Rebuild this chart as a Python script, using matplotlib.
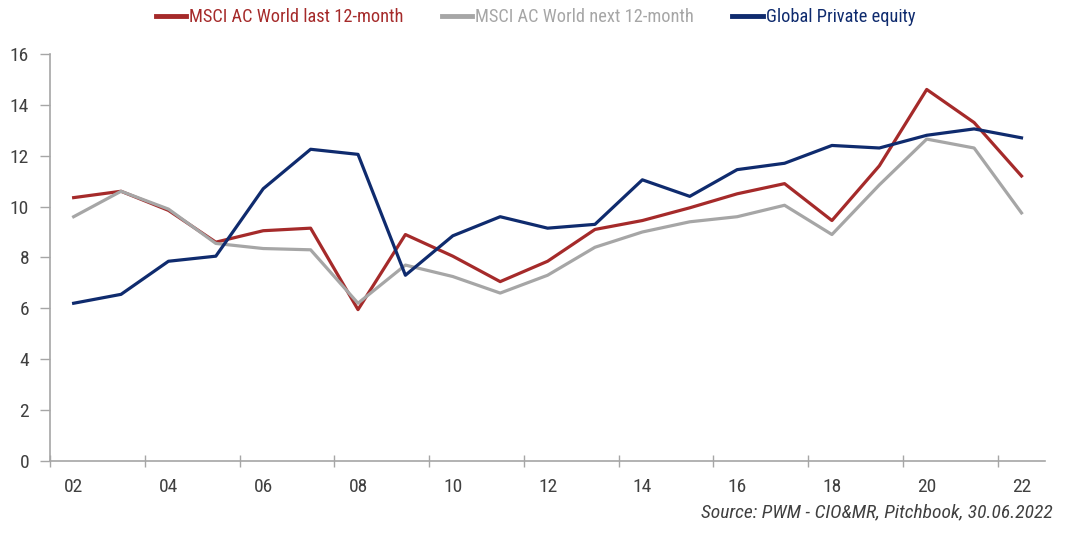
import matplotlib
matplotlib.use("Agg")
import matplotlib.pyplot as plt

plt.rcParams['font.family'] = ['Roboto Condensed', 'DejaVu Sans']

years = ['02', '03', '04', '05', '06', '07', '08', '09', '10', '11', '12',
         '13', '14', '15', '16', '17', '18', '19', '20', '21', '22']
msci_last = [10.35, 10.6, 9.85, 8.6, 9.05, 9.15, 5.95, 8.9, 8.05, 7.05, 7.85,
             9.1, 9.45, 9.95, 10.5, 10.9, 9.45, 11.6, 14.6, 13.3, 11.2]
msci_next = [9.6, 10.6, 9.9, 8.55, 8.35, 8.3, 6.2, 7.7, 7.25, 6.6, 7.3,
             8.4, 9.0, 9.4, 9.6, 10.05, 8.9, 10.85, 12.65, 12.3, 9.75]
private_eq = [6.2, 6.55, 7.85, 8.05, 10.7, 12.25, 12.05, 7.3, 8.85, 9.6, 9.15,
              9.3, 11.05, 10.4, 11.45, 11.7, 12.4, 12.3, 12.8, 13.05, 12.7]
yticks = [0, 2, 4, 6, 8, 10, 12, 14, 16]

fig = plt.figure(figsize=(10.72, 5.33), dpi=100)
ax = fig.add_axes([0.0466, 0.135, 0.9284, 0.764])
x = list(range(len(years)))
ax.plot(x, msci_last, color='#A52A2A', lw=2.3, label='MSCI AC World last 12-month')
ax.plot(x, msci_next, color='#A6A6A6', lw=2.3, label='MSCI AC World next 12-month')
ax.plot(x, private_eq, color='#0F2B6E', lw=2.3, label='Global Private equity')

ax.set_xlim(-0.5, len(years) - 0.5)
ax.set_ylim(0, 16)
ax.set_yticks(yticks)
ax.set_yticklabels([str(v) for v in yticks])
ax.set_xticks(x[::2])
ax.set_xticklabels(years[::2])
ax.set_xticks([i - 0.5 for i in range(0, len(years), 2)], minor=True)
ax.tick_params(axis='x', which='major', length=0, pad=12, labelsize=14, labelcolor='#404040')
ax.tick_params(axis='x', which='minor', length=9, direction='inout', color='#A6A6A6', width=1)
ax.tick_params(axis='y', length=7, direction='out', color='#A6A6A6', width=1, pad=8,
               labelsize=14, labelcolor='#404040')
for s in ['top', 'right']:
    ax.spines[s].set_visible(False)
for s in ['left', 'bottom']:
    ax.spines[s].set_color('#A6A6A6')
    ax.spines[s].set_linewidth(1.2)

leg = fig.legend(loc='center', bbox_to_anchor=(0.4995, 0.968), ncol=3, frameon=False,
                 fontsize=13.2, handlelength=1.65, handletextpad=0.17, columnspacing=2.1)
for t, h in zip(leg.get_texts(), leg.get_lines()):
    t.set_color(h.get_color())
    h.set_linewidth(3.5)

fig.text(0.982, 0.022, 'Source: PWM - CIO&MR, Pitchbook, 30.06.2022', ha='right', va='bottom',
         fontsize=14, style='italic', color='#404040')
fig.savefig('out.png', dpi=100)
